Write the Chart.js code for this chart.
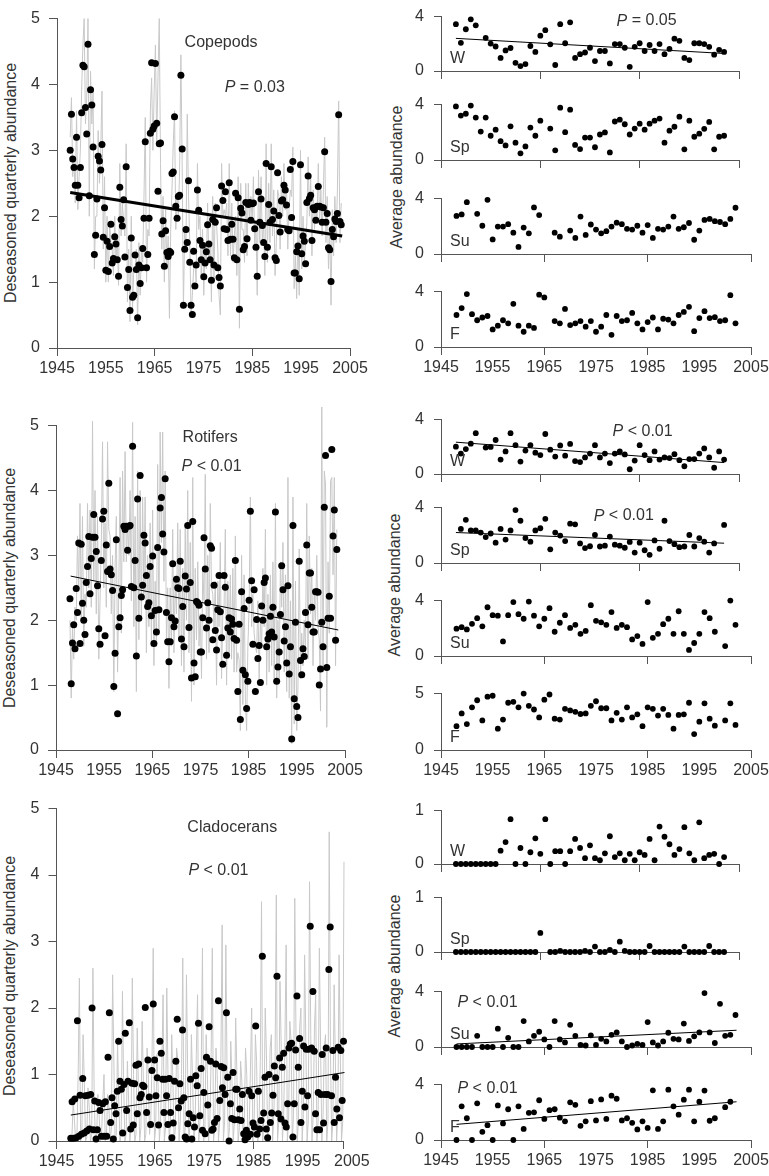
<!DOCTYPE html>
<html>
<head>
<meta charset="utf-8">
<script src="https://cdn.jsdelivr.net/npm/chart.js@4.4.0/dist/chart.umd.min.js"></script>
<style>
  body { margin: 0; background: #fff; width: 769px; height: 1176px; position: relative; overflow: hidden;
         font-family: "Liberation Sans", Arial, sans-serif; }
  canvas { position: absolute; }
  .ytitle { position: absolute; color: #333; font-size: 16px; white-space: nowrap;
            transform: translate(-50%, -50%) rotate(-90deg); }
</style>
</head>
<body>
<div class="ytitle" style="left:11px;top:183px">Deseasoned quarterly abundance</div>
<div class="ytitle" style="left:10px;top:588px">Deseasoned quarterly abundance</div>
<div class="ytitle" style="left:10px;top:976px">Deseasoned quarterly abundance</div>
<div class="ytitle" style="left:397px;top:177px">Average abundance</div>
<div class="ytitle" style="left:395px;top:585px">Average abundance</div>
<div class="ytitle" style="left:395px;top:966px">Average abundance</div>
<script>
// ---- left panels: deseasoned quarterly values (dots) and raw quarterly series (grey) ----
const copeDots = [
  3.0,3.55,2.87,2.74,2.47,3.2,2.47,2.28,2.74,3.57,
  4.29,4.27,3.65,3.25,4.61,2.31,3.92,3.69,3.05,1.42,
  1.71,2.26,2.91,2.84,2.7,3.09,1.68,2.13,1.18,1.62,
  1.16,1.54,1.88,1.29,1.36,1.69,1.58,1.34,1.09,2.44,
  1.95,1.85,2.25,1.38,2.75,0.92,1.19,0.57,1.67,0.77,
  0.8,1.41,1.19,0.46,1.26,0.98,1.22,1.51,1.97,3.13,
  1.22,1.42,1.97,3.26,4.33,3.32,3.37,4.32,3.41,2.38,
  3.1,3.11,1.73,1.93,1.24,1.78,1.45,1.39,1.47,1.45,
  2.65,2.67,3.51,2.15,1.97,2.3,2.32,4.14,3.02,0.65,
  1.5,1.8,1.6,2.54,1.3,0.65,0.51,1.47,0.94,1.26,
  2.4,2.09,1.63,1.34,1.56,1.08,1.29,1.46,1.87,1.58,
  1.34,1.03,1.95,1.26,1.91,2.13,1.22,1.07,0.94,2.46,
  2.24,1.81,2.37,1.8,1.63,2.51,1.65,1.88,1.65,1.37,
  2.35,1.34,2.28,0.59,2.12,2.05,1.49,1.54,2.21,1.66,
  2.18,2.21,1.94,2.19,2.2,1.81,1.53,1.09,2.37,1.91,
  2.26,1.86,1.6,1.39,2.8,1.53,2.18,1.91,2.75,1.95,
  2.08,1.37,1.33,2.66,2.01,1.76,2.23,2.25,2.47,2.4,
  2.17,1.8,1.78,2.71,1.98,2.83,1.14,1.14,1.46,1.55,
  1.05,2.78,1.43,1.7,1.62,1.28,2.21,2.61,2.27,2.32,
  1.63,2.13,2.1,1.94,2.15,2.45,2.15,2.14,1.91,2.13,
  2.98,1.91,2.04,1.52,1.49,1.01,1.8,1.69,1.96,1.92,
  2.04,3.54,1.92,1.87
];
const copeGrey = [
  3.2,3.8,2.6,2.9,2.2,3.6,2.1,2.6,3.0,3.9,
  4.6,5.0,3.4,3.8,5.0,2.0,4.2,3.4,3.9,1.2,
  2.0,2.0,3.3,2.5,3.0,3.9,1.5,2.6,1.0,2.0,
  1.0,1.9,1.6,1.5,1.1,2.0,1.3,1.7,0.95,2.8,
  1.7,2.2,1.9,1.7,3.1,0.7,1.5,0.4,2.0,0.6,
  1.2,1.2,1.5,0.35,1.6,0.8,1.5,1.3,2.3,3.5,
  1.0,1.8,1.7,3.6,4.1,3.0,3.9,4.6,3.1,4.1,
  5.0,2.8,1.5,2.3,1.0,2.1,1.2,1.7,0.45,1.8,
  2.4,3.1,3.6,1.8,2.3,2.0,2.7,4.45,2.8,0.6,
  1.8,1.5,3.55,2.3,1.6,0.5,0.8,1.2,1.3,1.0,
  2.8,1.8,2.0,1.1,1.8,0.8,1.6,1.2,2.2,1.3,
  1.6,0.7,2.3,1.0,2.2,1.9,1.5,0.8,0.5,2.8,
  2.0,2.1,2.0,2.2,1.4,2.8,1.4,2.2,1.3,1.7,
  2.0,1.1,2.6,0.3,2.5,1.8,1.8,1.3,2.5,1.4,
  2.5,1.9,2.3,1.9,2.6,1.5,1.9,0.8,2.7,1.6,
  2.6,1.6,1.9,1.1,3.1,1.3,2.5,1.6,3.1,1.7,
  2.4,1.1,1.6,2.4,2.3,1.5,2.6,2.0,2.8,2.1,
  2.5,1.5,2.1,2.4,2.3,3.05,0.9,1.4,0.75,1.8,
  0.8,3.0,1.2,2.0,1.3,1.6,1.9,2.9,2.0,2.6,
  1.4,2.4,1.8,2.2,1.9,2.8,1.9,2.4,1.7,2.4,
  3.2,1.6,2.3,1.2,1.8,0.65,2.1,1.4,2.3,1.6,
  2.4,3.75,1.6,2.2
];
const rotDots = [
  2.33,1.02,1.65,1.93,1.56,2.49,2.12,3.19,1.64,3.17,
  2.26,2.0,1.78,2.58,2.83,3.29,2.41,2.95,3.28,3.63,
  3.28,3.06,2.53,1.87,1.63,2.92,3.56,3.68,1.76,3.16,
  2.75,4.11,2.79,2.7,2.46,0.98,1.49,3.24,0.56,1.9,
  2.04,2.38,2.47,3.45,3.4,3.45,3.08,3.45,3.46,2.52,
  4.68,2.5,2.92,1.45,3.87,2.03,4.23,2.36,2.54,3.31,
  3.19,2.69,2.21,2.27,2.83,2.07,2.99,1.64,2.15,1.82,
  3.12,2.16,3.73,3.89,3.33,3.05,4.18,2.12,1.67,1.36,
  1.67,2.04,2.87,1.9,1.99,2.63,2.5,2.49,2.91,1.71,
  2.21,1.59,2.68,2.48,3.46,1.89,2.58,1.11,3.52,1.34,
  1.13,2.29,2.27,2.23,1.51,1.51,2.04,3.27,2.79,1.88,
  2.27,2.0,3.15,3.11,1.7,2.54,1.84,1.54,2.16,2.69,
  2.13,1.73,1.32,2.69,2.51,1.46,1.88,2.04,1.82,2.02,
  1.94,1.72,2.92,1.69,0.9,1.94,0.47,2.44,1.23,2.18,
  1.16,0.64,1.06,2.31,3.68,2.61,1.63,2.47,0.9,2.01,
  1.41,1.61,1.04,2.22,2.0,2.58,2.65,1.59,1.71,1.79,
  2.06,1.82,2.2,1.74,3.67,1.06,1.28,1.51,2.09,2.84,
  2.47,1.68,1.9,1.34,2.53,1.17,1.59,0.17,3.46,0.79,
  1.97,0.67,0.5,2.91,1.38,1.16,1.56,1.44,2.12,3.16,
  1.93,2.73,2.73,2.2,1.82,1.82,2.44,2.44,2.43,1.0,
  1.25,1.97,1.59,3.74,4.54,1.27,2.03,2.37,2.03,4.63,
  3.3,3.7,1.69,3.09
];
const rotGrey = [
  2.0,0.8,1.9,1.4,2.2,2.0,3.3,2.5,3.8,2.0,
  3.6,1.6,2.4,2.2,3.8,2.5,3.7,2.2,5.07,2.6,
  4.0,2.1,3.6,1.4,2.3,3.2,4.75,2.5,3.5,2.2,
  4.75,3.4,3.3,2.1,3.0,0.9,2.8,3.6,1.2,2.5,
  4.2,1.8,4.3,2.9,4.6,2.9,3.5,3.0,4.0,2.3,
  5.05,1.9,3.6,0.9,4.3,1.7,4.0,2.0,3.9,2.4,
  3.9,1.5,3.0,1.9,3.5,1.6,3.7,1.3,2.6,1.6,
  4.4,1.8,4.9,3.2,4.9,2.6,4.3,1.7,2.5,0.95,
  2.5,1.6,3.4,1.5,2.6,2.1,3.5,1.7,3.4,1.3,
  2.8,1.2,3.5,2.0,4.0,1.5,3.2,0.75,4.2,1.0,
  2.8,1.7,2.9,1.6,2.1,1.1,2.8,2.3,4.25,1.4,
  3.0,1.5,3.8,2.5,2.4,1.9,2.6,1.0,2.6,1.9,
  3.2,1.1,2.1,2.2,3.4,1.0,2.6,1.5,2.7,1.4,
  2.8,1.2,3.3,1.2,1.5,1.4,0.3,3.0,0.7,2.7,
  0.8,0.3,1.6,2.2,3.9,1.9,2.4,1.8,1.6,1.5,
  2.3,1.1,2.0,1.6,2.8,1.9,3.4,1.0,2.4,1.2,
  2.7,1.3,2.9,1.1,3.8,0.8,2.0,1.1,2.9,2.2,
  3.2,1.2,2.7,0.9,4.2,0.8,2.3,0.1,3.9,0.4,
  2.6,0.3,1.0,3.1,1.1,1.8,1.3,2.0,1.5,3.8,
  1.4,3.3,2.1,2.8,1.3,2.4,2.0,3.0,1.9,1.7,
  0.6,5.37,1.2,4.3,4.1,0.35,2.9,1.8,4.15,4.2,
  2.7,4.2,1.3,3.4
];
const cladDots = [
  0.04,0.59,0.04,0.63,0.05,1.81,0.07,0.69,0.1,0.94,
  0.12,0.68,0.15,0.69,0.18,0.7,2.0,0.17,0.6,0.03,
  0.17,0.58,0.46,0.07,0.56,0.07,0.59,0.07,1.26,1.93,
  0.28,0.65,0.03,0.53,0.41,0.75,1.5,0.9,0.78,0.12,
  0.85,1.62,0.46,0.9,1.78,0.18,0.87,0.24,0.86,1.14,
  0.41,1.16,0.65,0.7,0.84,0.82,2.01,0.43,1.22,0.66,
  0.25,1.06,2.06,1.22,0.68,0.95,0.24,1.5,1.32,0.93,
  0.43,0.93,0.68,0.25,0.94,0.43,0.05,0.27,0.9,1.2,
  1.83,0.5,0.86,0.6,1.67,0.65,0.06,0.03,0.26,0.41,
  0.93,0.03,0.35,0.21,0.98,0.83,1.77,0.38,1.09,0.16,
  0.73,0.11,1.26,0.54,1.72,1.2,0.16,0.18,0.28,1.16,
  0.34,2.11,0.61,1.12,0.8,1.1,0.7,1.93,0.96,0.0,
  0.56,0.34,1.03,0.32,0.78,0.78,0.32,0.48,0.31,0.7,
  0.11,0.02,0.16,0.06,0.75,0.1,0.68,0.27,0.21,1.73,
  0.1,0.75,0.18,0.31,2.78,0.42,0.96,0.18,0.05,1.0,
  0.28,0.42,0.69,1.13,0.95,2.48,0.41,1.25,0.33,1.11,
  1.32,0.27,0.21,0.56,1.4,1.46,1.47,0.06,0.56,1.37,
  2.18,1.11,1.54,0.28,0.75,1.43,0.51,1.38,0.68,1.38,
  3.23,1.4,2.25,1.35,0.41,0.17,0.73,0.17,0.7,1.3,
  0.27,0.7,1.4,0.7,2.58,3.22,0.68,1.36,0.28,0.96,
  0.48,1.41,0.35,1.36,0.61,1.5
];
// raw cladoceran quarters, one row per year 1948..2003
const cladGrey = [
  0,0.1,0.6,0.3,   0,0.05,1.0,2.45,  0,0.1,1.6,0.9,   0,0.05,0.8,0.5,
  0,0.1,2.6,0.7,   0,0.05,0.7,0.4,   0,0.1,0.6,1.0,   0,0.1,0.7,0.5,
  0,0.2,2.5,1.2,   0,0.1,1.5,0.6,    0,0.15,2.25,0.8, 0,0.1,1.2,0.6,
  0,0.2,2.45,1.0,  0,0.1,1.7,0.8,    0,0.2,1.8,0.9,   0,0.1,1.4,1.0,
  0.1,0.3,1.2,2.9, 0,0.2,1.3,0.8,    0,0.3,1.1,2.2,   0,0.2,2.3,1.0,
  0,0.3,1.6,0.9,   0,0.2,1.4,1.2,    0,0.3,1.0,2.75,  0,0.2,2.5,1.0,
  0,0.3,1.6,0.9,   0,0.2,1.3,2.2,    0,0.3,1.1,2.9,   0,0.2,1.6,1.0,
  0,0.3,1.2,2.9,   0,0.2,1.4,1.0,    0,0.3,1.3,3.25,  0,0.3,2.95,1.0,
  0,0.2,1.5,0.9,   0,0.3,1.85,1.0,   0,0.2,1.2,0.9,   0,0.3,1.4,1.0,
  0,0.2,1.1,2.0,   0,0.3,1.6,1.2,    0,0.3,1.2,3.6,   0,0.4,2.0,1.3,
  0,0.3,1.4,1.6,   0,0.4,1.2,3.7,    0,0.3,2.4,1.4,   0,0.4,1.5,2.95,
  0,0.3,1.8,1.5,   0,0.4,3.65,1.6,   0,0.3,1.7,2.0,   0,0.4,2.8,1.5,
  0,0.3,3.9,1.6,   0,0.4,1.7,2.2,    0,0.3,2.9,1.4,   0,0.4,1.4,1.6,
  0,0.3,4.65,1.4,  0,0.3,2.35,1.2,   0,0.4,2.8,1.3,   0,0.3,4.2,1.5
];

// ---- right panels: seasonal averages, 1948..2002 ----
const seasonYears = Array.from({ length: 55 }, (_, i) => 1948 + i);
const copeW = [3.44,2.07,3.07,3.8,3.36,null,2.44,2.02,1.8,0.96, 1.51,1.69,0.6,0.36,0.51,1.84,1.4,2.6,3.0,1.96,
  0.44,3.44,2.04,3.58,0.96,1.24,1.36,1.71,0.73,1.47, 1.47,0.56,1.98,1.98,1.71,0.31,1.78,2.04,1.47,1.91,
  1.47,1.98,1.24,1.62,2.38,2.22,0.96,0.8,2.04,2.04, 1.98,1.78,1.2,1.56,1.4];
const copeSp = [3.87,3.21,3.34,3.93,3.06,2.05,3.06,1.75,2.19,1.36, 1.05,2.43,1.25,0.48,0.98,2.34,1.75,2.84,null,2.27,
  0.7,3.78,2.01,3.63,1.09,0.79,1.62,1.62,0.92,1.84, 1.99,0.55,2.78,2.91,2.58,1.84,2.27,2.62,2.19,2.62,
  2.84,2.99,1.25,2.12,2.4,3.13,0.77,2.84,1.68,1.9, 2.25,2.75,0.77,1.68,1.75];
const copeSu = [2.75,2.86,3.74,null,2.9,2.04,3.91,1.05,1.98,1.98, 2.15,1.54,0.51,1.91,1.49,3.36,2.81,null,null,1.54,
  1.25,null,1.69,1.16,2.7,1.38,2.13,1.76,1.49,1.65, 1.98,2.26,2.15,1.82,1.76,2.04,1.54,2.09,1.16,1.82,
  1.76,1.98,2.7,1.82,1.93,2.24,1.03,1.69,2.46,2.53, 2.37,2.31,2.15,2.53,3.34];
const copeF = [2.31,2.81,3.82,2.37,1.93,2.13,2.24,1.27,1.54,1.93, 1.71,3.12,1.54,1.1,1.54,1.38,3.78,3.58,null,1.87,
  1.71,2.75,1.58,1.71,1.87,1.47,1.87,1.1,1.47,2.31, 0.88,2.24,1.87,1.93,2.46,1.71,1.27,1.8,2.13,1.27,
  2.04,1.98,1.71,2.31,2.53,2.9,1.14,2.09,2.59,2.09, 2.15,1.87,1.93,3.74,1.71];
const rotW = [2.01,1.5,1.83,2.23,3.0,null,1.94,1.99,2.5,1.06, 1.66,3.0,2.12,0.91,1.72,2.12,1.57,1.39,2.94,1.79,
  1.28,2.1,1.35,2.21,0.95,0.88,1.22,1.5,2.12,1.22, 1.5,0.8,1.5,1.66,1.44,0.35,0.99,2.12,1.39,1.02,
  1.66,1.06,1.22,1.17,1.46,1.02,0.57,1.1,1.1,1.5, 1.88,1.22,0.46,1.66,1.06];
const rotSp = [null,2.46,3.12,2.35,2.35,2.2,1.87,2.13,1.47,2.46, 1.69,2.35,3.82,3.05,1.8,1.54,2.35,2.51,3.19,0.99,
  2.2,1.98,1.58,2.84,2.79,1.41,1.08,1.21,2.02,1.19, 1.25,1.91,1.32,1.25,1.1,1.52,0.75,1.47,0.92,0.59,
  1.63,1.03,3.05,1.58,1.36,1.14,1.19,2.02,1.19,1.8, 1.54,0.75,1.41,null,2.75];
const rotSu = [1.97,2.08,1.92,2.32,2.73,2.14,3.52,2.95,2.91,1.05, 2.95,3.89,3.02,2.69,3.93,2.91,2.14,2.69,3.45,1.75,
  2.4,2.95,2.03,2.25,1.6,1.81,3.67,2.54,2.43,2.25, 3.17,2.03,2.25,2.08,1.2,1.44,0.87,3.89,1.31,1.6,
  2.3,2.69,1.6,3.23,1.6,0.44,0.94,1.6,3.17,2.73, 1.75,null,0.72,4.0,2.25];
const rotF = [2.11,3.24,2.3,3.78,4.41,2.62,4.73,4.81,1.89,2.7, 4.19,4.27,3.78,5.0,3.92,3.59,2.89,4.46,4.92,2.78,
  2.7,3.65,3.51,3.38,3.19,3.24,3.92,4.32,3.7,3.7, 2.62,3.3,2.7,3.78,2.89,3.16,2.11,3.78,3.65,3.05,
  3.65,3.11,1.89,3.11,3.16,4.19,1.41,2.51,4.14,2.78, 2.16,null,2.62,4.14,2.22];
const cladW = [0,0,0,0,0,0,0,0,0,0.25, 0.41,0.84,0,0.3,0,0.22,0.48,0.19,0.84,0,
  0.24,0.24,0,0.24,0.47,0.3,0.11,0.35,0.11,0.07, 0.2,0.52,0.13,0.2,0.07,0.19,0.07,0.22,0.17,0.47,
  0.07,0.7,0.51,0.37,0.17,0.28,0.69,0.2,0.07,0.78, 0.11,0.17,0.19,0,0.13];
const cladSp = [0,0,0,0,0,0,0,0,0,0, 0,0,0,0,0,0,0,0.35,null,0,
  0,0.02,0,0,0,0,0.02,0,0.1,0, 0,0.04,0,0.19,0.02,0,0,0,0,0.11,
  0,0,0,0,0,0,0.1,0,0,0, 0,0.11,0,0,0];
const cladSu = [0,0,0,0,0.81,0,0,0,1.32,0, 0.66,0,0,1.87,0.4,0.81,1.1,0.55,0,1.87,
  0.55,0.33,1.6,0.81,0.15,0.11,0.84,0.15,0.59,0.4, 0.88,1.05,0.4,0,0.11,0.22,0.15,1.8,0.33,0.11,
  0.4,1.03,0.59,0.55,1.69,0.44,0.77,1.05,3.89,1.05, 0.29,3.12,0.81,0.88,2.31];
const cladF = [0,2.43,1.57,0,2.65,0.59,1.07,0,2.5,1.2, 2.22,0,2.43,0.8,1.96,2.0,2.87,1.52,2.15,2.22,
  1.61,1.35,2.72,2.54,1.02,1.35,2.8,1.41,2.93,1.52, 3.2,2.98,1.41,1.57,1.24,0.76,1.35,0.87,3.59,0.8,
  1.35,3.63,2.43,1.83,2.91,3.63,1.35,2.76,3.57,1.39, 1.57,null,2.37,2.76,null];

const xTickLabels = [1945, 1955, 1965, 1975, 1985, 1995, 2005];
const FONT = '"Liberation Sans", Arial, sans-serif';
const TEXT = '#333';
const AXIS = '#555';

// spread a quarterly series evenly between its first and last date
function quarterly(vals, x0, x1) {
  const step = (x1 - x0) / (vals.length - 1);
  return vals.map((v, i) => ({ x: x0 + i * step, y: v }));
}
function yearly(vals) {
  return vals.map((v, i) => ({ x: seasonYears[i], y: v }));
}

function textLayer(items) {
  return {
    id: 'texts',
    afterDraw(chart) {
      const ctx = chart.ctx, a = chart.chartArea;
      const xs = chart.scales.x, ys = chart.scales.y;
      ctx.save();
      ctx.fillStyle = TEXT;
      ctx.textBaseline = 'middle';
      ctx.textAlign = 'left';
      items.forEach(it => {
        const widths = it.parts.map(p => { ctx.font = `${p[1]} 16px ${FONT}`; return ctx.measureText(p[0]).width; });
        const total = widths.reduce((s, w) => s + w, 0);
        let x = it.px !== undefined ? a.left + it.px : xs.getPixelForValue(it.x) - total / 2;
        const y = it.py !== undefined ? a.bottom - it.py : ys.getPixelForValue(it.y);
        it.parts.forEach((p, i) => {
          ctx.font = `${p[1]} 16px ${FONT}`;
          ctx.fillText(p[0], x, y);
          x += widths[i];
        });
      });
      ctx.restore();
    }
  };
}

// tick marks only every 20 years (and at the axis end); labels every 10 years
function tickMarkVisible(v, xmax) {
  if (Math.abs(v - xmax) < 1e-6) return true;
  return v <= xmax && (v - 1945) % 20 === 0;
}

function panel(box, cfg) {
  const padL = cfg.padL, padB = cfg.padB, padT = 14, padR = 30;
  const xmax = cfg.xmax || 2005;
  const w = Math.round(box.r - box.l + padL + padR);
  const h = Math.round(box.b - box.t + padT + padB);
  const cv = document.createElement('canvas');
  cv.width = w; cv.height = h;
  cv.style.left = (box.l - padL) + 'px';
  cv.style.top = (box.t - padT) + 'px';
  cv.style.width = w + 'px';
  cv.style.height = h + 'px';
  document.body.appendChild(cv);

  const tickFont = { family: FONT, size: 16 };
  new Chart(cv, {
    type: 'scatter',
    data: { datasets: cfg.datasets },
    options: {
      responsive: false,
      animation: false,
      devicePixelRatio: 1,
      layout: { padding: { top: padT, right: padR, left: 0, bottom: 0 } },
      plugins: { legend: { display: false }, tooltip: { enabled: false } },
      scales: {
        x: {
          type: 'linear', min: 1945, max: xmax,
          afterBuildTicks: s => {
            const vals = xTickLabels.slice();
            if (!vals.includes(xmax)) vals.push(xmax);
            vals.sort((a, b) => a - b);
            s.ticks = vals.map(v => ({ value: v }));
          },
          afterFit: s => { s.height = padB; s.paddingLeft = 0; s.paddingRight = 0; },
          ticks: { display: cfg.xLabels, font: tickFont, color: TEXT, padding: 3, maxRotation: 0, autoSkip: false,
                   callback: v => xTickLabels.includes(v) ? String(v) : '' },
          grid: { drawOnChartArea: false, drawTicks: true, tickLength: 8,
                  color: c => (c.tick && !tickMarkVisible(c.tick.value, xmax)) ? 'rgba(0,0,0,0)' : AXIS },
          border: { display: true, color: AXIS, width: 1 }
        },
        y: {
          min: 0, max: cfg.ymax,
          afterFit: s => { s.width = padL; },
          ticks: { stepSize: cfg.yStep, font: tickFont, color: TEXT, padding: cfg.yPad },
          grid: { drawOnChartArea: false, drawTicks: true, tickLength: cfg.yTick, color: AXIS },
          border: { display: true, color: AXIS, width: 1 }
        }
      }
    },
    plugins: [textLayer(cfg.texts || [])]
  });
}

function greyLine(points) {
  return { data: points, showLine: true, borderColor: '#c8c8c8', borderWidth: 1, pointRadius: 0, order: 3, clip: false };
}
function dots(points, r) {
  return { data: points, backgroundColor: '#000', borderWidth: 0, pointRadius: r, order: 1, clip: false };
}
function trend(x0, y0, x1, y1, w) {
  return { data: [{ x: x0, y: y0 }, { x: x1, y: y1 }], showLine: true, borderColor: '#000', borderWidth: w,
           pointRadius: 0, order: 2, clip: false };
}
const P = (rest) => [['P', 'italic'], [rest, 'normal']];

// ---- left column ----
const leftCommon = { padL: 57, padB: 32, ymax: 5, yStep: 1, yPad: 9, yTick: 8, xLabels: true };
panel({ l: 57, r: 350, t: 14, b: 348 }, { ...leftCommon, datasets: [
  greyLine(quarterly(copeGrey, 1947.7, 2003.2)),
  trend(1947.7, 2.36, 2003.4, 1.70, 3),
  dots(quarterly(copeDots, 1947.7, 2003.2), 3.5)
], texts: [
  { x: 1978.6, y: 4.63, parts: [['Copepods', 'normal']] },
  { x: 1985.5, y: 3.95, parts: P(' = 0.03') }
] });
panel({ l: 56, r: 345, t: 420.7, b: 749.3 }, { ...leftCommon, padL: 56, datasets: [
  greyLine(quarterly(rotGrey, 1947.9, 2003.3)),
  trend(1948.05, 2.68, 2003.6, 1.85, 1),
  dots(quarterly(rotDots, 1947.9, 2003.3), 3.5)
], texts: [
  { x: 1977.0, y: 4.81, parts: [['Rotifers', 'normal']] },
  { x: 1977.3, y: 4.37, parts: P(' < 0.01') }
] });
// the cladoceran axis line stops short of the 2005 label, as in the figure
panel({ l: 56.5, r: 343.3, t: 804, b: 1140.7 }, { ...leftCommon, padL: 56.5, xmax: 2003.2, datasets: [
  greyLine(quarterly(cladGrey, 1947.9, 1947.9 + (cladGrey.length - 1) * 0.25)),
  trend(1947.9, 0.39, 2003.5, 1.03, 1),
  dots(quarterly(cladDots, 1947.9, 2003.3), 3.5)
], texts: [
  { x: 1980.7, y: 4.72, parts: [['Cladocerans', 'normal']] },
  { x: 1977.9, y: 4.07, parts: P(' < 0.01') }
] });

// ---- right column ----
const rightCommon = { padL: 60, padB: 30, yStep: 4, ymax: 4, yPad: 10, yTick: 7, xLabels: false };
const rows = [
  { boxes: [[11, 71], [99, 160], [192.7, 253.3], [286, 346.7]],
    series: [copeW, copeSp, copeSu, copeF], ymax: [4, 4, 4, 4],
    trends: [[1948, 2.4, 2002, 1.29], null, null, null],
    notes: [[1986.4, 3.67, ' = 0.05'], null, null, null] },
  { boxes: [[414, 474.3], [501.7, 562.3], [595, 656], [688.3, 750]],
    series: [rotW, rotSp, rotSu, rotF], ymax: [4, 4, 4, 5],
    trends: [[1948, 2.34, 2002, 0.84], [1948, 2.2, 2002, 1.43], null, null],
    notes: [[1985.6, 3.14, ' < 0.01'], [1981.8, 3.39, ' < 0.01'], null, null] },
  { boxes: [[805, 864.3], [892.3, 952.7], [986, 1046.7], [1079.3, 1140.7]],
    series: [cladW, cladSp, cladSu, cladF], ymax: [1, 1, 4, 4],
    trends: [null, null, [1948, 0.22, 2002.2, 1.21], [1948, 1.13, 2002.2, 2.76]],
    notes: [null, null, [1954.0, 3.21, ' < 0.01'], [1954.0, 3.69, ' < 0.01']] }
];
const seasons = ['W', 'Sp', 'Su', 'F'];
rows.forEach(row => {
  row.boxes.forEach((bx, k) => {
    const ds = [dots(yearly(row.series[k]), 2.9)];
    const tr = row.trends[k];
    if (tr) ds.push(trend(tr[0], tr[1], tr[2], tr[3], 1));
    const texts = [{ px: 9, py: 12, parts: [[seasons[k], 'normal']] }];
    const n = row.notes[k];
    if (n) texts.push({ x: n[0], y: n[1], parts: P(n[2]) });
    panel({ l: 441, r: k < 2 ? 739 : 750.7, t: bx[0], b: bx[1] }, {
      ...rightCommon, ymax: row.ymax[k], yStep: row.ymax[k], xLabels: k === 3,
      datasets: ds, texts
    });
  });
});
</script>
</body>
</html>
